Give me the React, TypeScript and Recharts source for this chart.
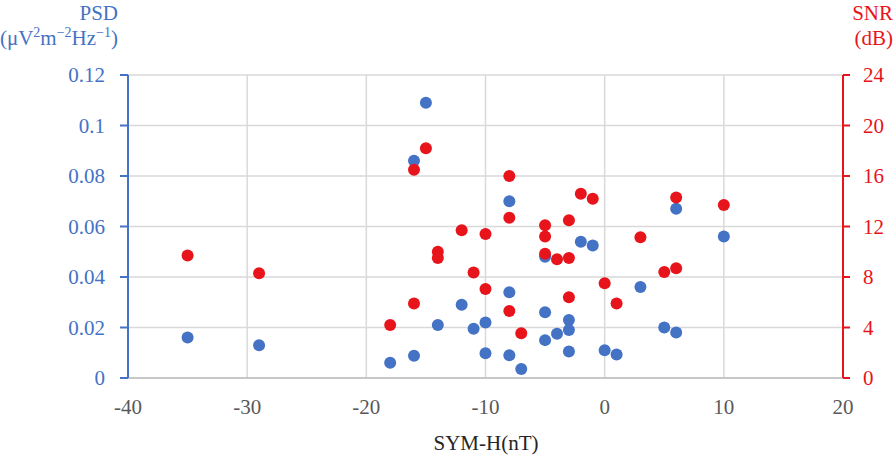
import { ScatterChart, Scatter, XAxis, YAxis, CartesianGrid } from 'recharts';

const FONT = '"Liberation Serif", "Times New Roman", serif';
const BLUE = '#4472c4';
const RED = '#e8141b';
const GRID = '#d9d9d9';

// axis ticks
const symHTicks = [-40, -30, -20, -10, 0, 10, 20];
const psdTicks = [0, 0.02, 0.04, 0.06, 0.08, 0.1, 0.12];
const snrTicks = [0, 4, 8, 12, 16, 20, 24];

// PSD (left axis, blue)
const psdSymH = [-35, -29, -18, -16, -16, -15, -14, -12, -11, -10, -10, -8, -8, -8, -7, -5, -5, -5, -4, -3, -3, -3, -2, -1, 0, 1, 3, 5, 6, 6, 10];
const psdValues = [0.016, 0.013, 0.006, 0.086, 0.0088, 0.109, 0.021, 0.029, 0.0195, 0.022, 0.0098, 0.07, 0.034, 0.009, 0.0036, 0.048, 0.026, 0.015, 0.0175, 0.023, 0.019, 0.0105, 0.054, 0.0525, 0.011, 0.0093, 0.036, 0.02, 0.067, 0.018, 0.056];

// SNR (right axis, red)
const snrSymH = [-35, -29, -18, -16, -16, -15, -14, -14, -12, -11, -10, -10, -8, -8, -8, -7, -5, -5, -5, -4, -3, -3, -3, -2, -1, 0, 1, 3, 5, 6, 6, 10];
const snrValues = [9.7, 8.3, 4.2, 16.5, 5.9, 18.2, 10.0, 9.5, 11.7, 8.35, 11.4, 7.05, 16.0, 12.7, 5.3, 3.55, 12.1, 11.2, 9.85, 9.4, 12.5, 9.5, 6.4, 14.6, 14.2, 7.5, 5.9, 11.15, 8.4, 14.3, 8.7, 13.7];

const psdData = psdSymH.map((x, i) => ({ x, y: psdValues[i] }));
const snrData = snrSymH.map((x, i) => ({ x, y: snrValues[i] }));

const dot = (color: string) => (props: any) => (
  <circle cx={props.cx} cy={props.cy} r={6} fill={color} />
);

function LeftTitle() {
  return (
    <g fontFamily={FONT} fill={BLUE} fontSize={21} textAnchor="end">
      <text x={118} y={20}>PSD</text>
      <text x={118} y={45}>
        (μV<tspan fontSize={14} dy={-8}>2</tspan>
        <tspan dy={8}>m</tspan>
        <tspan fontSize={14} dy={-8}>−2</tspan>
        <tspan dy={8}>Hz</tspan>
        <tspan fontSize={14} dy={-8}>−1</tspan>
        <tspan dy={8}>)</tspan>
      </text>
    </g>
  );
}

function RightTitle() {
  return (
    <g fontFamily={FONT} fill={RED} fontSize={21} textAnchor="end">
      <text x={893} y={20}>SNR</text>
      <text x={893} y={45}>(dB)</text>
    </g>
  );
}

function BottomTitle() {
  return (
    <text x={486} y={450} textAnchor="middle" fontFamily={FONT} fontSize={21} fill="#262626">
      SYM-H(nT)
    </text>
  );
}

export default function App() {
  return (
    <div style={{ position: 'absolute', left: 0, top: 0, background: '#fff' }}>
      <ScatterChart width={896} height={456} margin={{ top: 75, right: 0, bottom: 0, left: 0 }}>
        <CartesianGrid yAxisId="psd" stroke={GRID} strokeWidth={1.5} />
        <XAxis
          type="number"
          dataKey="x"
          domain={[-40, 20]}
          ticks={symHTicks}
          height={78}
          tickLine={false}
          tickSize={0}
          tickMargin={21}
          axisLine={{ stroke: '#bfbfbf', strokeWidth: 1.5 }}
          tick={{ fill: '#595959', fontSize: 21, fontFamily: FONT }}
          label={{ content: () => <BottomTitle /> }}
        />
        <YAxis
          yAxisId="psd"
          type="number"
          dataKey="y"
          domain={[0, 0.12]}
          ticks={psdTicks}
          width={128}
          tickSize={8}
          tickMargin={15}
          axisLine={{ stroke: BLUE, strokeWidth: 2 }}
          tickLine={{ stroke: BLUE, strokeWidth: 2 }}
          tick={{ fill: BLUE, fontSize: 21, fontFamily: FONT }}
          tickFormatter={(v: number) => String(v)}
          label={{ content: () => <LeftTitle /> }}
        />
        <YAxis
          yAxisId="snr"
          orientation="right"
          type="number"
          dataKey="y"
          domain={[0, 24]}
          ticks={snrTicks}
          width={53}
          tickSize={7}
          tickMargin={13}
          axisLine={{ stroke: RED, strokeWidth: 2 }}
          tickLine={{ stroke: RED, strokeWidth: 2 }}
          tick={{ fill: RED, fontSize: 21, fontFamily: FONT, textAnchor: 'start' }}
          label={{ content: () => <RightTitle /> }}
        />
        <Scatter yAxisId="psd" data={psdData} fill={BLUE} shape={dot(BLUE)} isAnimationActive={false} />
        <Scatter yAxisId="snr" data={snrData} fill={RED} shape={dot(RED)} isAnimationActive={false} />
      </ScatterChart>
    </div>
  );
}
